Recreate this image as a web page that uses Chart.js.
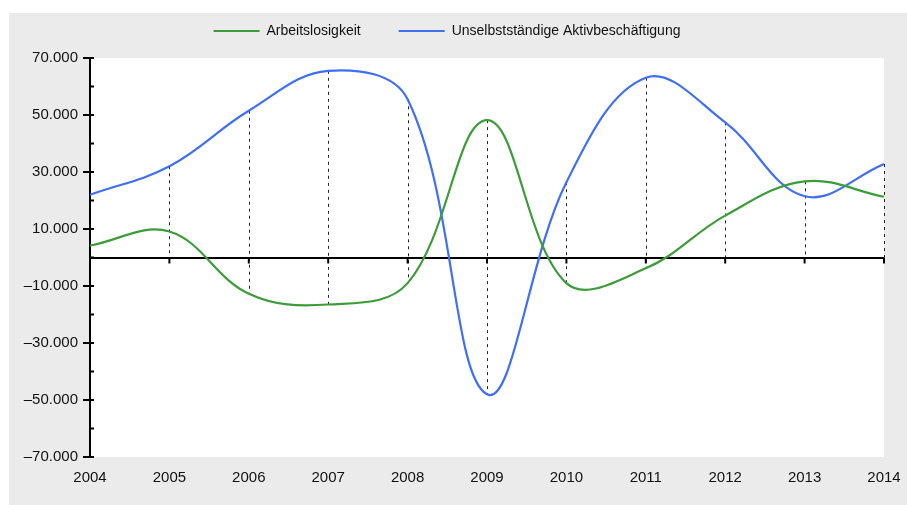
<!DOCTYPE html>
<html>
<head>
<meta charset="utf-8">
<script src="https://cdn.jsdelivr.net/npm/chart.js@4/dist/chart.umd.min.js"></script>
<style>
  body{ margin:0; background:#fff; }
  #panel{ position:absolute; left:9px; top:13px; width:898px; height:492px; background:#ebebeb; }
  #chart{ position:absolute; left:0; top:0; }
</style>
</head>
<body>
<div id="panel"></div>
<canvas id="chart" width="907" height="505"></canvas>
<script>
const years = [2004, 2005, 2006, 2007, 2008, 2009, 2010, 2011, 2012, 2013, 2014];
const arbeitslosigkeit = [4200, 9100, -12700, -16500, -9000, 48200, -9000, -3800, 14700, 26700, 21300];
const aktivbeschaeftigung = [22000, 32000, 51500, 65500, 55500, -48000, 26400, 63100, 47400, 21500, 32800];
const seriesNames = ["Arbeitslosigkeit", "Unselbstständige Aktivbeschäftigung"];

const fmt = (v)=> v.toLocaleString("de-DE").replace("-", "–");

// extra space under the legend
const legendGap = {
  id: "legendGap",
  beforeInit(chart){
    const fit = chart.legend.fit;
    chart.legend.fit = function(){
      fit.call(this);
      this.height += 10;
    };
  }
};

// white plot area + drop lines + axis ticks
const extras = {
  id: "extras",
  beforeDraw(chart){
    const {ctx, chartArea:a} = chart;
    ctx.save();
    ctx.fillStyle = "#fff";
    ctx.fillRect(a.left, a.top, a.right - a.left, a.bottom - a.top);
    ctx.restore();
  },
  beforeDatasetsDraw(chart){
    const {ctx, scales:{x, y}} = chart;
    ctx.save();
    ctx.strokeStyle = "#222";
    ctx.lineWidth = 1;
    ctx.setLineDash([3, 4]);
    years.forEach((yr, i)=>{
      if (i === 0) return;
      const hi = Math.max(0, arbeitslosigkeit[i], aktivbeschaeftigung[i]);
      const lo = Math.min(0, arbeitslosigkeit[i], aktivbeschaeftigung[i]);
      const px = Math.round(x.getPixelForValue(yr)) + 0.5;
      ctx.beginPath();
      ctx.moveTo(px, y.getPixelForValue(hi));
      ctx.lineTo(px, y.getPixelForValue(lo));
      ctx.stroke();
    });
    ctx.setLineDash([]);
    // x ticks on zero line
    ctx.strokeStyle = "#000";
    ctx.lineWidth = 2;
    const y0 = y.getPixelForValue(0);
    years.forEach((yr, i)=>{
      if (i === 0) return;
      const px = x.getPixelForValue(yr);
      ctx.beginPath();
      ctx.moveTo(px, y0);
      ctx.lineTo(px, y0 + 6);
      ctx.stroke();
    });
    // inner y ticks
    const ax = x.getPixelForValue(years[0]);
    for (let v = -70000; v <= 70000; v += 10000){
      const py = y.getPixelForValue(v);
      ctx.beginPath();
      ctx.moveTo(ax, py);
      ctx.lineTo(ax + 4, py);
      ctx.stroke();
    }
    ctx.restore();
  }
};

new Chart(document.getElementById("chart"), {
  type: "line",
  data: {
    datasets: [
      { label: seriesNames[0], data: years.map((yr,i)=>({x:yr, y:arbeitslosigkeit[i]})),
        borderColor: "#3c9c3a", backgroundColor: "#3c9c3a", borderWidth: 2.2, pointRadius: 0, tension: 0.38 },
      { label: seriesNames[1], data: years.map((yr,i)=>({x:yr, y:aktivbeschaeftigung[i]})),
        borderColor: "#3f6ff5", backgroundColor: "#3f6ff5", borderWidth: 2.2, pointRadius: 0, tension: 0.38 }
    ]
  },
  options: {
    responsive: false,
    animation: false,
    layout: { padding: { left: 10, right: 23, top: -14, bottom: 0 } },
    plugins: {
      tooltip: { enabled: false },
      legend: {
        position: "top",
        labels: {
          usePointStyle: true, pointStyle: "line", pointStyleWidth: 46, boxHeight: 14,
          padding: 38, color: "#111",
          font: { family: "Liberation Sans, Arial, sans-serif", size: 14 }
        }
      }
    },
    scales: {
      x: {
        type: "linear", min: 2004, max: 2014,
        grid: { display: false },
        border: { display: false },
        ticks: { stepSize: 1, padding: 4, color: "#111", callback: (v)=>String(v),
                 maxRotation: 0, font: { family: "Liberation Sans, Arial, sans-serif", size: 15 } },
        afterFit(s){ s.height = 48; }
      },
      y: {
        min: -70000, max: 70000,
        border: { display: true, color: "#000", width: 2 },
        grid: {
          drawOnChartArea: true,
          color: (c)=> c.tick && c.tick.value === 0 ? "#000" : "rgba(0,0,0,0)",
          lineWidth: 2,
          tickLength: 7, tickWidth: 2,
          tickColor: (c)=> c.tick && Math.abs(c.tick.value) % 20000 === 10000 ? "#000" : "rgba(0,0,0,0)"
        },
        ticks: {
          stepSize: 10000, padding: 5, color: "#111",
          font: { family: "Liberation Sans, Arial, sans-serif", size: 15 },
          callback: (v)=> Math.abs(v) % 20000 === 10000 ? fmt(v) : ""
        },
        afterFit(s){ s.width = 80; }
      }
    }
  },
  plugins: [legendGap, extras]
});
</script>
</body>
</html>
